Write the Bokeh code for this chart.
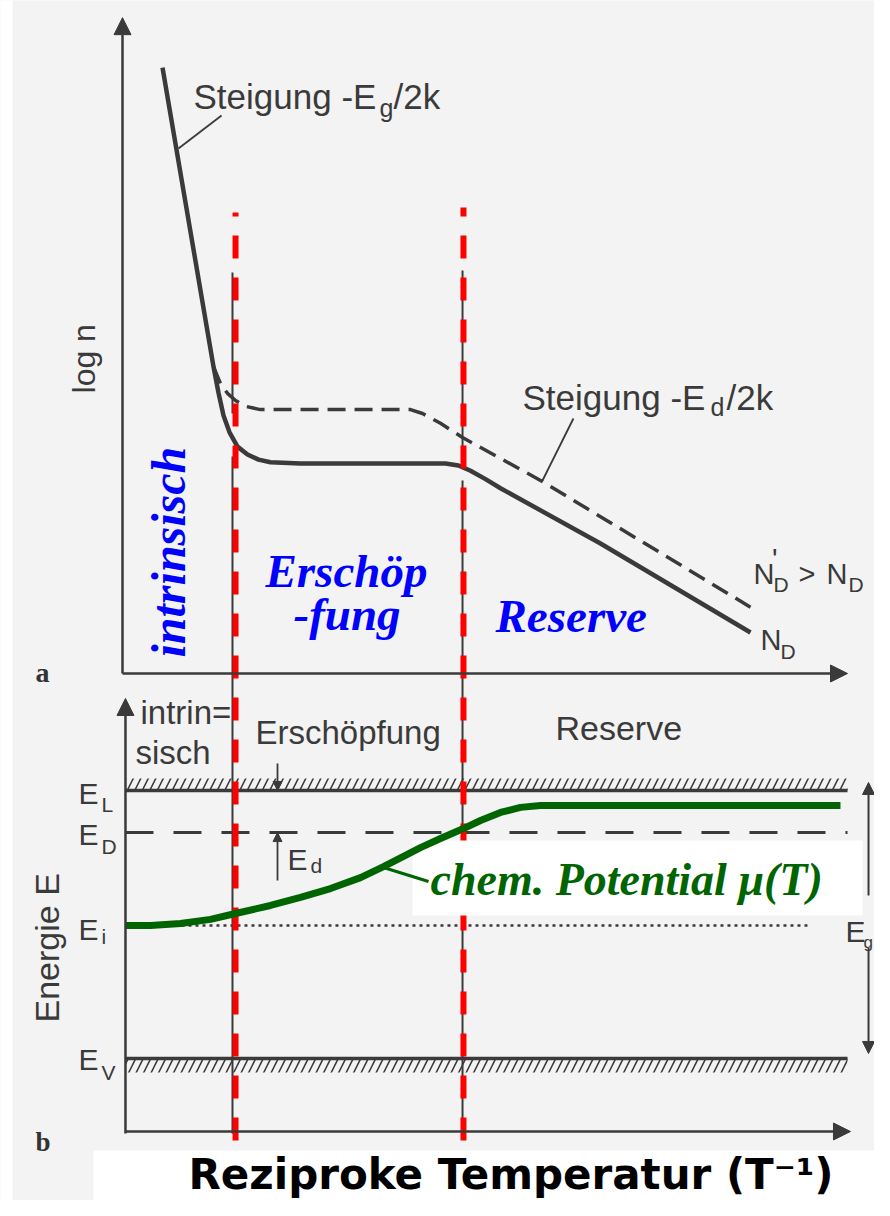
import numpy as np
from bokeh.plotting import figure
from bokeh.models import Range1d, Arrow, NormalHead
from bokeh.core.properties import value
from bokeh.embed import file_html
from bokeh.resources import INLINE

# ---------------- data (arbitrary units) ----------------
# panel a: log n versus reciprocal temperature
inv_T_nd = [5.52, 12.55, 13.24, 13.93, 14.76, 15.86, 17.24, 18.76, 20.41, 24.55,
            41.10, 44.55, 46.34, 48.00, 50.07, 52.14, 65.93, 86.62]
log_n_nd = [93.2, 47.2, 43.2, 39.7, 37.1, 34.9, 33.7, 32.9, 32.5, 32.3,
            32.3, 32.3, 32.0, 31.2, 29.9, 28.5, 20.0, 6.3]
inv_T_nd2 = [12.55, 13.52, 14.48, 15.59, 16.97, 19.03, 39.72, 41.38, 43.86, 46.90, 57.66, 86.62]
log_n_nd2 = [47.2, 44.6, 43.1, 42.0, 41.1, 40.6, 40.6, 40.0, 38.5, 36.3, 29.7, 10.2]
# region boundaries (intrinsisch | Erschöpfung | Reserve)
T_bound = [15.59, 47.03]
T_guide = [15.17, 46.90]
# panel b: energy levels and chemical potential
E_L, E_D, E_i, E_V = 100.0, 84.3, 49.6, 0.0
inv_T_mu = [0.41, 3.86, 8.0, 12.14, 15.59, 20.41, 24.55, 28.69, 32.83, 36.0, 39.03,
            41.1, 43.86, 47.03, 49.38, 52.14, 54.9, 57.66, 99.03]
mu = [49.6, 49.6, 50.4, 51.9, 54.1, 57.1, 60.1, 63.4, 67.5, 71.6, 75.8,
      78.7, 82.1, 85.8, 88.8, 91.8, 93.7, 94.4, 94.4]

DARK = "#3a3a3a"
BG = "#f3f3f3"
SANS = "Liberation Sans"
SERIF = "Liberation Serif"

p = figure(width=874, height=1200, x_range=Range1d(-16.828, 103.724),
           y_range=Range1d(-81.08, 103.54), output_backend="svg",
           toolbar_location=None, min_border=0,
           x_axis_location=None, y_axis_location=None)
p.extra_y_ranges = {"E": Range1d(-52.99, 394.78)}
p.grid.visible = False
p.outline_line_color = None
p.background_fill_color = BG
p.border_fill_color = BG

SHIFT = 0.3  # baseline correction, in em


def txt(x, y, s, size, font=SANS, color=DARK, style="normal", angle=0.0, rng=None,
        align="left", baseline="alphabetic"):
    kw = {"y_range_name": rng} if rng else {}
    if angle:
        kw["x_offset"] = -SHIFT * size
    else:
        kw["y_offset"] = -SHIFT * size
    p.text(x=[x], y=[y], text=[s], text_font=value(font), text_font_size=f"{size}px",
           text_font_style=style, text_color=color, angle=angle, text_align=align,
           text_baseline=baseline, **kw)


def arrow(x0, y0, x1, y1, size=17, width=2.5, rng=None):
    kw = {"y_range_name": rng} if rng else {}
    p.add_layout(Arrow(end=NormalHead(size=size, fill_color=DARK, line_color=DARK, line_width=1),
                       x_start=x0, y_start=y0, x_end=x1, y_end=y1,
                       line_color=DARK, line_width=width, **kw))


# white areas of the scan
p.quad(left=[-4.0], right=[106], bottom=[-60], top=[-34.33], y_range_name="E",
       fill_color="white", line_color=None)
p.quad(left=[-17], right=[-15.17], bottom=[-90], top=[110],
       fill_color="white", line_color=None)

# thin guide lines of the original figure
for xg, top_a, bot_a, top_e in [(T_guide[0], 61.69, 40.0, 224.63), (T_guide[1], 62.0, 34.31, 215.67)]:
    p.line([xg, xg], [top_a, bot_a], line_color=DARK, line_width=2)
    p.line([xg, xg], [top_e, -28.0], line_color=DARK, line_width=2, y_range_name="E")

# ---------------- panel a ----------------
arrow(0, 0, 0, 100.9)
arrow(0, 0, 100, 0)
p.line(inv_T_nd, log_n_nd, line_color=DARK, line_width=4.5, line_join="round")
p.line(inv_T_nd2, log_n_nd2, line_color=DARK, line_width=3.5, line_dash="18 9")
p.line([7.72, 13.66], [80.77, 85.85], line_color=DARK, line_width=1.8)
p.line([62.2, 57.93], [39.23, 29.69], line_color=DARK, line_width=1.8)

txt(9.79, 87.08, "Steigung -E", 35)
txt(35.45, 85.85, "g", 25)
txt(37.38, 87.08, "/2k", 35)
txt(55.17, 40.92, "Steigung -E", 35)
txt(81.1, 39.85, "d", 25)
txt(83.31, 40.92, "/2k", 35)
txt(87.03, 14.0, "N", 29)
txt(89.6, 16.3, "'", 29)
txt(89.79, 12.77, "D", 21)
txt(93.24, 14.0, ">", 29)
txt(97.1, 14.0, "N", 29)
txt(100.14, 12.77, "D", 21)
txt(88.0, 3.85, "N", 29)
txt(90.76, 2.46, "D", 21)
txt(-4.0, 43.08, "log n", 32, angle=np.pi / 2)
txt(-12.0, -1.08, "a", 28, font=SERIF, style="bold", color="#333333")

BLUE = "#0000ff"
txt(8.28, 2.46, "intrinsisch", 48, font=SERIF, style="bold italic", color=BLUE, angle=np.pi / 2)
txt(19.72, 13.54, "Erschöp", 47, font=SERIF, style="bold italic", color=BLUE)
txt(23.59, 6.92, "-fung", 47, font=SERIF, style="bold italic", color=BLUE)
txt(51.45, 6.62, "Reserve", 47, font=SERIF, style="bold italic", color=BLUE)

# ---------------- panel b ----------------
arrow(0.41, -28.0, 0.41, 134.33, rng="E")
arrow(0.41, -27.24, 100.41, -27.24, rng="E")

p.quad(left=[0.41], right=[100], bottom=[E_L], top=[104.48], y_range_name="E",
       fill_color=None, line_color=None, hatch_pattern="/", hatch_scale=15,
       hatch_weight=1.6, hatch_color=DARK)
p.quad(left=[0.41], right=[100], bottom=[-5.22], top=[E_V], y_range_name="E",
       fill_color=None, line_color=None, hatch_pattern="/", hatch_scale=15,
       hatch_weight=1.6, hatch_color=DARK)
p.line([0.41, 100], [E_L, E_L], line_color=DARK, line_width=3.5, y_range_name="E")
p.line([0.41, 100], [E_V, E_V], line_color=DARK, line_width=3.5, y_range_name="E")
p.line([0.41, 100], [E_D, E_D], line_color=DARK, line_width=3, line_dash="28 20", y_range_name="E")
p.line([0.41, 94.62], [E_i, E_i], line_color=DARK, line_width=2.5, line_dash="3 4", y_range_name="E")

arrow(21.38, 110.07, 21.38, E_L, size=9, width=1.8, rng="E")
arrow(21.38, 66.42, 21.38, E_D, size=9, width=1.8, rng="E")
arrow(102.9, 60.82, 102.9, 102.99, size=12, width=2, rng="E")
arrow(102.9, 41.42, 102.9, 1.87, size=12, width=2, rng="E")

txt(2.48, 125.37, "intrin=", 33, rng="E")
txt(1.79, 110.45, "sisch", 33, rng="E")
txt(18.34, 117.91, "Erschöpfung", 33, rng="E")
txt(59.72, 119.4, "Reserve", 34, rng="E")
for lab, sub, yb, ys in [("E", "L", 95.52, 92.54), ("E", "D", 80.22, 76.87),
                         ("E", "i", 44.78, 43.28), ("E", "V", -3.73, -7.46)]:
    txt(-6.07, yb, lab, 30, rng="E")
    txt(-2.9, ys, sub, 21, rng="E")
txt(22.76, 70.9, "E", 30, rng="E")
txt(25.93, 69.78, "d", 21, rng="E")
txt(99.72, 44.03, "E", 30, rng="E")
txt(102.21, 41.5, "g", 17, rng="E")
txt(-8.97, 13.43, "Energie E", 34, angle=np.pi / 2, rng="E")
txt(-12.0, -34.33, "b", 27, font=SERIF, style="bold", color="#333333", rng="E")

# red boundary lines
for xb, top in zip(T_bound, [315.67, 317.54]):
    p.line([xb, xb], [-30.6, top], line_color="#ff0000", line_width=6,
           line_dash="23 19", y_range_name="E")

# white box behind the label, chemical potential curve
p.quad(left=[40.0], right=[102.07], bottom=[53.36], top=[81.34], y_range_name="E",
       fill_color="white", line_color=None)
GREEN = "#006400"
p.line(inv_T_mu, mu, line_color=GREEN, line_width=7, line_join="round", y_range_name="E")
p.line([36.0, 42.21], [71.27, 66.04], line_color=GREEN, line_width=3, y_range_name="E")
txt(42.48, 61.57, "chem. Potential μ(T)", 46, font=SERIF, style="bold italic", color=GREEN, rng="E")

txt(9.1, -48.13, "Reziproke Temperatur (T⁻¹)", 42, font="DejaVu Sans", style="bold",
    color="#000000", rng="E")

open("out.html", "w").write(file_html(p, INLINE))
